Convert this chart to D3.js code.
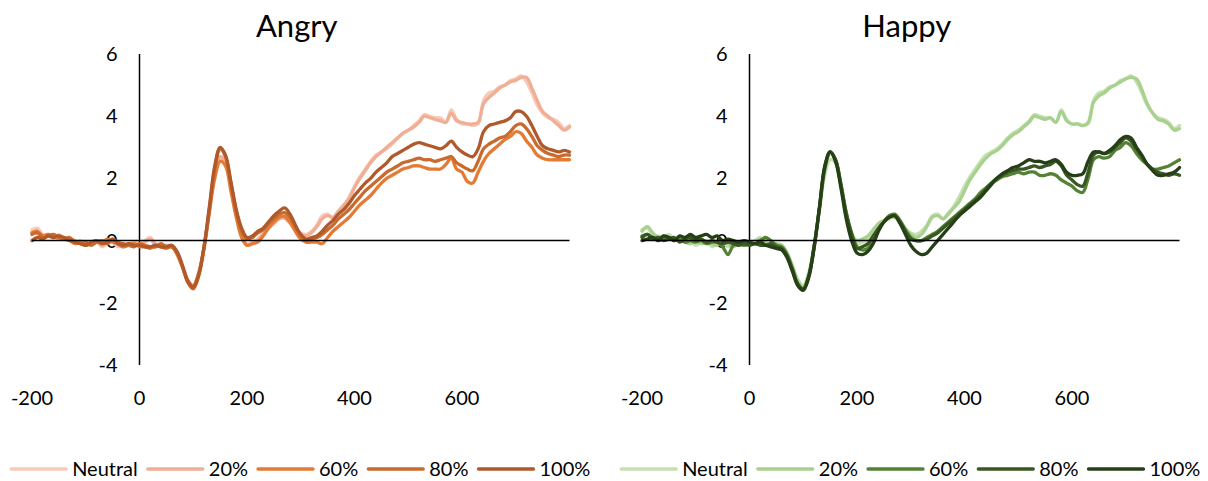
<!DOCTYPE html>
<html>
<head>
<meta charset="utf-8">
<script src="https://cdn.jsdelivr.net/npm/d3@7"></script>
<style>
  html, body { margin: 0; padding: 0; background: #fff; }
  svg { display: block; font-family: Lato, "Open Sans", sans-serif; }
</style>
</head>
<body>
<svg id="chart" width="1208" height="481"></svg>
<script>
// Sampling times (ms), one value every 10 ms
const times = d3.range(-200, 801, 10);
const xTicks = [-200, 0, 200, 400, 600];
const yTicks = [-4, -2, 0, 2, 4, 6];
const conditions = ["Neutral", "20%", "60%", "80%", "100%"];

// Neutral faces (same condition shown in both panels)
const neutral = [
  0.35, 0.4, 0.2, 0.15, 0.1, 0.2, 0.05, 0.1, -0.05, 0.0, -0.15, -0.05, 0.0, -0.2, -0.1, -0.05, -0.2, -0.1, -0.15, -0.05, -0.1,
  0.0, 0.1, -0.1, -0.15, -0.2, -0.15,
  -0.4, -0.8, -1.25, -1.45, -1.05, -0.2, 0.95, 2.1, 2.6, 2.5, 1.8, 0.9, 0.2,
  -0.1, -0.05, 0.05, 0.25, 0.45, 0.6, 0.7, 0.75, 0.6, 0.4,
  0.25, 0.2, 0.3, 0.5, 0.8, 0.85, 0.7, 0.9, 1.1, 1.4,
  1.75, 2.05, 2.3, 2.55, 2.75, 2.85, 2.95, 3.1, 3.3, 3.45,
  3.55, 3.7, 3.85, 4.05, 4.0, 3.95, 3.95, 3.8, 4.2, 3.9,
  3.75, 3.75, 3.7, 3.75, 4.5, 4.75, 4.8, 4.95, 5.0, 5.15,
  5.2, 5.3, 5.1, 4.75, 4.35, 4.1, 3.95, 3.9, 3.8, 3.6, 3.7
];

// Angry morphs
const angry20 = [
  0.25, 0.3, 0.15, 0.2, 0.15, 0.05, 0.1, 0.05, 0.0, -0.1, -0.05, -0.1, -0.05, -0.15, -0.05, 0.0, -0.15, -0.2, -0.1, -0.1, -0.15,
  -0.05, 0.05, -0.15, -0.2, -0.15, -0.2,
  -0.4, -0.85, -1.3, -1.5, -1.1, -0.2, 1.0, 2.2, 2.7, 2.55, 1.8, 0.85, 0.15,
  -0.15, -0.1, 0.0, 0.2, 0.4, 0.55, 0.7, 0.72, 0.55, 0.35,
  0.2, 0.15, 0.25, 0.45, 0.7, 0.8, 0.75, 0.95, 1.15, 1.35,
  1.7, 2.0, 2.25, 2.5, 2.7, 2.85, 3.0, 3.15, 3.3, 3.45,
  3.55, 3.65, 3.8, 4.0, 3.95, 3.9, 3.85, 3.8, 4.1, 3.85,
  3.8, 3.75, 3.75, 3.8, 4.4, 4.6, 4.75, 4.9, 5.0, 5.1,
  5.15, 5.25, 5.25, 4.9, 4.5, 4.15, 4.0, 3.85, 3.7, 3.55, 3.65
];
const angry60 = [
  0.25, 0.3, 0.15, 0.2, 0.1, 0.15, 0.05, 0.0, -0.1, -0.05, -0.15, -0.1, 0.0, -0.05, 0.05, -0.05, -0.1, -0.2, -0.15, -0.1, -0.2,
  -0.2, -0.25, -0.15, -0.2, -0.25, -0.2,
  -0.45, -0.85, -1.3, -1.45, -1.05, -0.25, 0.9, 2.0, 2.55, 2.4, 1.6, 0.75, 0.1,
  -0.15, -0.1, -0.05, 0.15, 0.4, 0.6, 0.75, 0.78, 0.6, 0.3,
  0.05, -0.05, -0.05, -0.05, -0.1, 0.1, 0.3, 0.45, 0.6, 0.75,
  0.95, 1.15, 1.3, 1.45, 1.65, 1.85, 2.0, 2.1, 2.2, 2.3,
  2.35, 2.4, 2.4, 2.35, 2.3, 2.3, 2.3, 2.45, 2.65, 2.3,
  2.2, 1.9, 1.85, 2.2, 2.55, 2.8, 2.95, 3.1, 3.25, 3.35,
  3.5, 3.45, 3.2, 3.0, 2.75, 2.65, 2.6, 2.6, 2.6, 2.6, 2.6
];
const angry80 = [
  0.2, 0.25, 0.1, 0.15, 0.2, 0.1, 0.05, 0.1, -0.05, -0.1, -0.05, -0.15, -0.05, 0.0, -0.1, 0.05, -0.05, -0.1, -0.15, -0.2, -0.1,
  -0.15, -0.2, -0.2, -0.1, -0.2, -0.2,
  -0.4, -0.85, -1.35, -1.55, -1.15, -0.25, 1.0, 2.3, 2.95, 2.7, 1.85, 0.95, 0.3,
  0.05, 0.1, 0.25, 0.35, 0.55, 0.7, 0.85, 0.9, 0.75, 0.45,
  0.15, 0.0, 0.05, 0.1, 0.2, 0.35, 0.5, 0.7, 0.85, 1.0,
  1.2, 1.4, 1.6, 1.75, 1.9, 2.05, 2.2, 2.3, 2.4, 2.5,
  2.55, 2.6, 2.65, 2.6, 2.6, 2.55, 2.6, 2.65, 2.7, 2.5,
  2.4, 2.3, 2.25, 2.55, 2.95, 3.1, 3.2, 3.3, 3.35, 3.5,
  3.7, 3.75, 3.6, 3.35, 3.05, 2.9, 2.8, 2.75, 2.7, 2.75, 2.75
];
const angry100 = [
  0.0, 0.1, 0.05, 0.15, 0.1, 0.15, 0.1, 0.0, -0.05, -0.1, -0.15, -0.05, 0.0, -0.1, -0.05, 0.05, -0.1, -0.15, -0.1, -0.15, -0.15,
  -0.2, -0.2, -0.15, -0.2, -0.2, -0.15,
  -0.35, -0.8, -1.3, -1.5, -1.1, -0.2, 1.1, 2.4, 3.0, 2.75, 1.9, 1.0, 0.4,
  0.1, 0.15, 0.3, 0.4, 0.6, 0.8, 0.95, 1.05, 0.85, 0.5,
  0.2, 0.05, 0.1, 0.15, 0.3, 0.5, 0.65, 0.85, 1.0, 1.2,
  1.45, 1.65, 1.85, 2.0, 2.2, 2.35, 2.5, 2.7, 2.8, 2.9,
  3.0, 3.1, 3.15, 3.1, 3.05, 3.0, 2.95, 3.05, 3.2, 3.0,
  2.85, 2.75, 2.7, 2.95, 3.5, 3.7, 3.75, 3.8, 3.85, 3.95,
  4.15, 4.15, 4.0, 3.7, 3.35, 3.05, 2.95, 2.9, 2.85, 2.9, 2.85
];

// Happy morphs
const happy20 = [
  0.3, 0.45, 0.25, 0.1, 0.15, 0.1, 0.0, 0.05, -0.05, -0.1, 0.0, -0.1, -0.05, -0.1, -0.15, -0.05, -0.1, -0.2, -0.1, -0.15, -0.1,
  -0.05, 0.05, -0.05, -0.15, -0.1, -0.15,
  -0.4, -0.85, -1.3, -1.5, -1.1, -0.2, 1.0, 2.25, 2.8, 2.6, 1.85, 0.9, 0.2,
  0.0, 0.05, 0.15, 0.35, 0.55, 0.65, 0.75, 0.75, 0.6, 0.35,
  0.2, 0.1, 0.2, 0.45, 0.75, 0.8, 0.7, 0.85, 1.05, 1.25,
  1.6, 1.95, 2.2, 2.45, 2.65, 2.8, 2.9, 3.05, 3.25, 3.4,
  3.5, 3.65, 3.8, 4.0, 3.95, 3.9, 3.95, 3.8, 4.15, 3.85,
  3.75, 3.75, 3.7, 3.8, 4.45, 4.65, 4.75, 4.9, 5.0, 5.1,
  5.2, 5.25, 5.2, 4.85, 4.4, 4.1, 3.9, 3.85, 3.75, 3.55, 3.6
];
const happy60 = [
  0.15, 0.2, 0.1, 0.0, 0.05, 0.1, 0.0, 0.05, -0.05, 0.0, -0.05, 0.0, -0.1, -0.05, -0.05, -0.2, -0.45, -0.15, -0.1, -0.15, -0.1,
  -0.1, 0.0, 0.1, 0.0, -0.15, -0.2,
  -0.45, -0.9, -1.4, -1.55, -1.15, -0.25, 1.0, 2.3, 2.85, 2.6, 1.8, 0.9, 0.25,
  -0.2, -0.3, -0.25, 0.0, 0.35, 0.6, 0.8, 0.85, 0.65, 0.35,
  0.1, 0.0, 0.0, 0.1, 0.2, 0.3, 0.45, 0.6, 0.75, 0.9,
  1.05, 1.2, 1.35, 1.55, 1.7, 1.85, 1.95, 2.05, 2.1, 2.15,
  2.2, 2.15, 2.2, 2.2, 2.1, 2.1, 2.15, 2.1, 1.95, 1.85,
  1.75, 1.6, 1.55, 2.0, 2.6, 2.7, 2.65, 2.7, 2.9, 3.0,
  3.15, 3.05, 2.8, 2.6, 2.45, 2.3, 2.3, 2.35, 2.4, 2.5, 2.6
];
const happy80 = [
  0.1, 0.2, 0.05, 0.1, 0.0, 0.05, 0.1, -0.05, 0.05, 0.1, 0.0, 0.05, -0.05, 0.0, -0.05, -0.1, -0.05, -0.1, -0.15, -0.1, -0.15,
  -0.1, -0.15, -0.15, -0.1, -0.2, -0.25,
  -0.5, -0.95, -1.4, -1.55, -1.15, -0.2, 1.05, 2.35, 2.85, 2.6, 1.8, 0.85, 0.2,
  -0.25, -0.2, -0.1, 0.15, 0.4, 0.6, 0.75, 0.8, 0.6, 0.3,
  0.05, 0.0, 0.0, 0.05, 0.15, 0.25, 0.4, 0.55, 0.7, 0.85,
  1.0, 1.15, 1.3, 1.45, 1.65, 1.85, 2.0, 2.1, 2.2, 2.25,
  2.3, 2.3, 2.35, 2.4, 2.35, 2.4, 2.45, 2.55, 2.4, 2.1,
  1.95, 1.8, 1.75, 2.2, 2.75, 2.85, 2.8, 2.85, 3.0, 3.15,
  3.3, 3.2, 2.95, 2.7, 2.45, 2.3, 2.2, 2.15, 2.1, 2.15, 2.1
];
const happy100 = [
  0.0, 0.05, 0.1, 0.0, 0.15, 0.1, 0.0, 0.15, 0.1, 0.2, 0.1, 0.15, 0.2, 0.1, 0.15, 0.0, 0.05, 0.0, -0.05, 0.0, -0.05,
  -0.1, -0.05, -0.15, -0.2, -0.25, -0.3,
  -0.55, -1.0, -1.45, -1.6, -1.2, -0.25, 1.05, 2.4, 2.85, 2.55, 1.7, 0.7, 0.0,
  -0.4, -0.45, -0.35, -0.1, 0.3, 0.6, 0.75, 0.8, 0.55, 0.2,
  -0.15, -0.35, -0.45, -0.4, -0.2, 0.0, 0.2, 0.4, 0.6, 0.8,
  0.95, 1.1, 1.25, 1.4, 1.6, 1.8, 2.0, 2.15, 2.25, 2.35,
  2.4, 2.5, 2.6, 2.55, 2.55, 2.5, 2.55, 2.6, 2.45, 2.2,
  2.1, 2.1, 2.15, 2.55, 2.85, 2.85, 2.8, 2.9, 3.05, 3.25,
  3.35, 3.3, 3.0, 2.75, 2.45, 2.25, 2.1, 2.1, 2.15, 2.2, 2.35
];

const angryColors = ["#f8cbb9", "#f1ae96", "#e47b35", "#c96a2e", "#b0592a"];
const happyColors = ["#c6e0b4", "#a9d18e", "#548235", "#385723", "#263f17"];

const panels = [
  { title: "Angry", series: [neutral, angry20, angry60, angry80, angry100], colors: angryColors, left: 32 },
  { title: "Happy", series: [neutral, happy20, happy60, happy80, happy100], colors: happyColors, left: 642 }
];

const svg = d3.select("#chart");
const plotW = 537.5, plotTop = 54, plotBottom = 365;

panels.forEach(p => {
  const g = svg.append("g");
  const x = d3.scaleLinear().domain([-200, 800]).range([p.left, p.left + plotW]);
  const y = d3.scaleLinear().domain([-4, 6]).range([plotBottom, plotTop]);

  // title
  g.append("text")
    .attr("x", (x(-200) + x(800)) / 2 - 4)
    .attr("y", 37)
    .attr("text-anchor", "middle")
    .attr("font-size", 31)
    .attr("fill", "#000")
    .text(p.title);

  // y axis line at t = 0 with labels on its left
  g.append("line")
    .attr("x1", x(0)).attr("x2", x(0))
    .attr("y1", y(6)).attr("y2", y(-4))
    .attr("stroke", "#000").attr("stroke-width", 1.5);
  g.selectAll(".ytick").data(yTicks).enter().append("text")
    .attr("x", x(0) - 22)
    .attr("y", d => y(d))
    .attr("dy", "0.35em")
    .attr("text-anchor", "end")
    .attr("font-size", 20)
    .text(d => d);

  // x tick labels below the plot
  g.selectAll(".xtick").data(xTicks).enter().append("text")
    .attr("x", d => x(d))
    .attr("y", 398)
    .attr("dy", "0.35em")
    .attr("text-anchor", "middle")
    .attr("font-size", 20)
    .text(d => d);

  // series
  const line = d3.line()
    .x((d, i) => x(times[i]))
    .y(d => y(d))
    .curve(d3.curveCatmullRom.alpha(0.5));
  p.series.forEach((s, i) => {
    g.append("path")
      .attr("d", line(s))
      .attr("fill", "none")
      .attr("stroke", p.colors[i])
      .attr("stroke-width", 3.3)
      .attr("stroke-linejoin", "round")
      .attr("stroke-linecap", "round");
  });

  // horizontal axis at zero, drawn over the traces
  g.append("line")
    .attr("x1", x(-200)).attr("x2", x(800))
    .attr("y1", y(0)).attr("y2", y(0))
    .attr("stroke", "#000").attr("stroke-width", 1.5);

  // legend, centred under the plot
  const lg = g.append("g");
  let cx = 0;
  conditions.forEach((c, i) => {
    const it = lg.append("g");
    it.append("line")
      .attr("x1", cx).attr("x2", cx + 55)
      .attr("y1", 0).attr("y2", 0)
      .attr("stroke", p.colors[i]).attr("stroke-width", 3.3)
      .attr("stroke-linecap", "round");
    const t = it.append("text")
      .attr("x", cx + 61)
      .attr("y", 0)
      .attr("dy", "0.35em")
      .attr("font-size", 20)
      .text(c);
    cx += 61 + t.node().getComputedTextLength() + 10;
  });
  const total = cx - 10;
  const mid = (x(-200) + x(800)) / 2;
  lg.attr("transform", `translate(${mid - total / 2},469)`);
});
</script>
</body>
</html>
